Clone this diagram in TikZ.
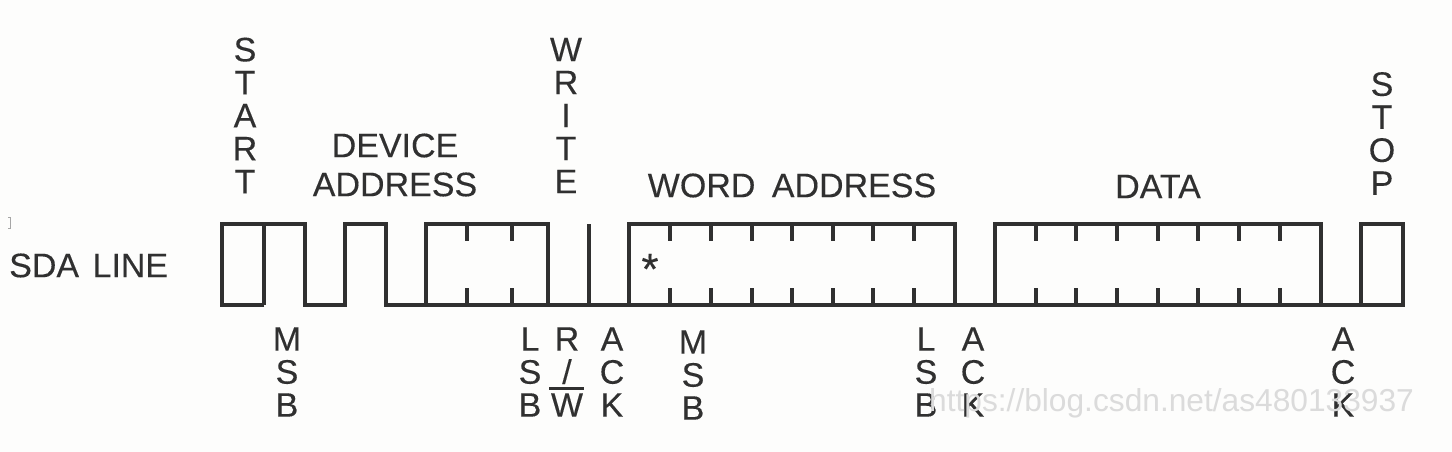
\documentclass[tikz,border=0pt]{standalone}
\usepackage{fontspec}
\setmainfont[FakeBold=0.25]{Liberation Sans}
\newfontfamily\wmfont{Liberation Sans}
\definecolor{paper}{RGB}{253,253,252}
\definecolor{inkc}{RGB}{48,48,48}
\newcommand{\lbl}{\fontsize{34}{39}\selectfont}
\newcommand{\stk}{\fontsize{34}{33}\selectfont}
\tikzset{
  x=1pt,y=-1pt,
  wave/.style={draw=inkc,line width=3.5pt,line join=miter,line cap=butt},
  tick/.style={draw=inkc,line width=3.3pt},
  txt/.style={inner sep=0pt,text=inkc,font=\lbl},
  twoline/.style={txt,align=center},
  stack/.style={inner sep=0pt,text=inkc,font=\stk,align=center}
}
\begin{document}
\begin{tikzpicture}
\useasboundingbox[fill=paper] (0,0) rectangle (1452,452);
% stray scan mark
\draw[black!35,line width=1pt] (8,217) -- (10,217) -- (10,228) -- (8,228);
% waveform
\draw[wave] (264,305) -- (222,305) -- (222,224) -- (305,224) -- (305,305) -- (345,305) -- (345,224) -- (386,224) -- (386,305) -- (1403,305) -- (1403,224) -- (1361,224) -- (1361,305);
\draw[wave] (264,224) -- (264,305);
\draw[wave] (426,305) -- (426,224) -- (548,224) -- (548,305);
\draw[wave] (589,224) -- (589,305);
\draw[wave] (629,305) -- (629,224) -- (955,224) -- (955,305);
\draw[wave] (995,305) -- (995,224) -- (1321,224) -- (1321,305);
\foreach \x in {467,512,670,711,752,792,833,873,914,1036,1076,1117,1158,1198,1239,1280}{
  \draw[tick] (\x,224) -- (\x,241);
  \draw[tick] (\x,288) -- (\x,305);
}
\node[inner sep=0pt,text=inkc,font=\fontsize{44}{44}\selectfont] (star) at (650,269) {*};
% labels
\node[txt,anchor=west] (sda) at (9,265.5) {SDA\hspace{4pt} LINE};
\node[stack] (start) at (245,115.5) {S\\T\\A\\R\\T};
\node[twoline] (devaddr) at (395,165) {DEVICE\\ADDRESS};
\node[stack] (write) at (566,115.5) {W\\R\\I\\T\\E};
\node[txt] (wordaddr) at (792,185.5) {WORD\hspace{7pt} ADDRESS};
\node[txt] (data) at (1158,186.5) {DATA};
\node[stack] (stop) at (1382,133.5) {S\\T\\O\\P};
\node[stack] (msb1) at (287,372) {M\\S\\B};
\node[stack] (lsb1) at (530,372) {L\\S\\B};
\node[stack] (rw) at (567,372) {R\\/\\\rlap{\kern-1.5pt\raisebox{26.5pt}{\rule{35pt}{3.6pt}}}W};
\node[stack] (ack1) at (612,372) {A\\C\\K};
\node[stack] (msb2) at (693,375) {M\\S\\B};
\node[stack] (lsb2) at (926,372) {L\\S\\B};
\node[stack] (ack2) at (973,372) {A\\C\\K};
\node[stack] (ack3) at (1343,372) {A\\C\\K};
\node[inner sep=0pt,text=black!14,font=\fontsize{31.7}{36}\selectfont\wmfont] (wm) at (1171.5,403) {https://blog.csdn.net/as480133937};
\end{tikzpicture}
\end{document}
